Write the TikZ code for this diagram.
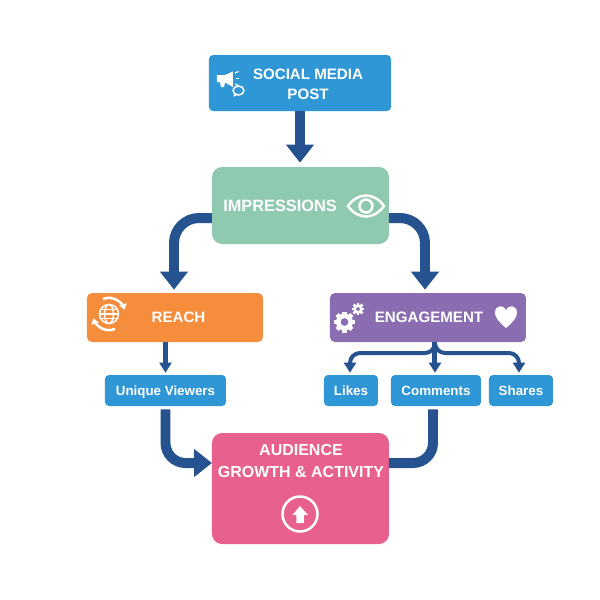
\documentclass[tikz,border=0pt]{standalone}
\usepackage{fontspec}
\setmainfont{Liberation Sans}
\usetikzlibrary{arrows.meta}
\definecolor{postBlue}{HTML}{2F97D5}
\definecolor{impGreen}{HTML}{8FC9B0}
\definecolor{reachOrange}{HTML}{F68D3C}
\definecolor{engPurple}{HTML}{8A6DB1}
\definecolor{audPink}{HTML}{E8608C}
\definecolor{arrowBlue}{HTML}{26538F}
\tikzset{
  boxDecorate/.style={shape=rectangle,inner sep=0pt},%
  labelDecorate/.style={text=white,font=\bfseries\fontsize{8.6}{11.6}\selectfont,align=center,inner sep=0pt},%
  smallLabel/.style={text=white,font=\bfseries\fontsize{7.6}{10}\selectfont,inner sep=0pt,anchor=base},%
  bigArrow/.style={draw=arrowBlue,line width=0.2cm,rounded corners=0.5cm,-{Triangle[width=0.54cm,length=0.36cm]}},%
  midArrow/.style={draw=arrowBlue,line width=0.08cm,rounded corners=0.2cm,-{Triangle[width=0.24cm,length=0.2cm]}},%
  iconLine/.style={draw=white,line width=0.03cm},%
  iconFill/.style={fill=white}
}
\begin{document}
\begin{tikzpicture}[x=0.02cm,y=-0.02cm]
\useasboundingbox (0,0) rectangle (600,600);
%% boxes
\foreach \nodename/\x/\y/\w/\h/\col/\rad in {
  post/300/83/182/56/postBlue/4,
  impressions/300.5/205.5/177/77/impGreen/10,
  reach/175/317.5/176/49/reachOrange/5,
  engagement/428/317.5/196/49/engPurple/5,
  viewers/165.5/390.5/121/31/postBlue/4,
  likes/351/390.5/54/31/postBlue/4,
  comments/436/390.5/90/31/postBlue/4,
  shares/521/390.5/64/31/postBlue/4,
  audience/300.5/488.5/177/111/audPink/10}
{
  \node (\nodename) at (\x,\y) [boxDecorate,fill=\col,rounded corners=\rad*0.02cm,
    minimum width=\w*0.02cm,minimum height=\h*0.02cm] {};
}
%% labels
\node (postText) at (308,84) [labelDecorate] {SOCIAL MEDIA\\POST};
\node (impText) at (280,205.5) [labelDecorate,font=\bfseries\fontsize{9.3}{12}\selectfont] {IMPRESSIONS};
\node (reachText) at (178.5,317.5) [labelDecorate] {REACH};
\node (engText) at (429,317.5) [labelDecorate] {ENGAGEMENT};
\node (audText) at (301,461) [labelDecorate,font=\bfseries\fontsize{9.1}{12}\selectfont] {AUDIENCE\\GROWTH \& ACTIVITY};
\foreach \nodename/\x/\txt in {
  viewersText/165.5/Unique Viewers, likesText/351/Likes,
  commentsText/436/Comments, sharesText/521/Shares}
{
  \node (\nodename) at (\x,395.5) [smallLabel] {\txt};
}
%% connector ends
\coordinate (impLeft) at (212,218);
\coordinate (impRight) at (389,218);
\coordinate (audienceIn) at (212,463);
\coordinate (audienceOut) at (389,463);
\coordinate (fork) at (435,353);
%% connectors
\draw[bigArrow,rounded corners=0pt,shorten >=0.08cm] (post.south) -- (post.south |- impressions.north);
\draw[bigArrow,shorten >=0.06cm] (impLeft) -| ([xshift=-0.02cm]reach.north);
\draw[bigArrow,shorten >=0.06cm] (impRight) -| ([xshift=-0.06cm]engagement.north);
\draw[midArrow,line width=0.1cm,shorten >=0.04cm] (reach.south -| viewers.north) -- (viewers.north);
\draw[midArrow] (fork |- engagement.south) -- (fork) -| ([xshift=-0.02cm,yshift=0.04cm]likes.north);
\draw[midArrow] (fork |- engagement.south) -- (fork) -| ([xshift=-0.04cm,yshift=0.04cm]shares.north);
\draw[midArrow,line width=0.1cm,rounded corners=0pt,shorten >=0.04cm] (fork |- engagement.south) -- (fork |- comments.north);
\draw[bigArrow,rounded corners=0.4cm,shorten <=0.06cm] (viewers.south) |- (audienceIn);
\draw[bigArrow,-,rounded corners=0.4cm,shorten <=0.06cm] ([xshift=-0.06cm]comments.south) |- (audienceOut);
%% megaphone and speech bubble
\fill[iconFill] (217,75) -- (225,75) -- (233,71.5) -- (233,87) -- (225,82.5) -- (224,87) -- (221,87) -- (220,82) -- (217,82) -- cycle;
\foreach \a/\b in {235/73, 236/78.5, 235/84}
{
  \draw[iconLine,line width=0.025cm] (\a,\b) -- ++(3.5,{(\b-78.5)*0.3});
}
\draw[iconLine] (238.5,90.5) ellipse (5.5 and 4.5);
\fill[iconFill] (234,93) -- (233.5,97) -- (238,94.5) -- cycle;
%% eye
\draw[iconLine,line width=0.05cm] (348,206) .. controls (358,192) and (374,192) .. (384,206)
  .. controls (374,220) and (358,220) .. (348,206) -- cycle;
\draw[iconLine,line width=0.05cm] (366,206) circle (6.5);
%% globe with arrows
\draw[iconLine] (109,314) circle (9.5);
\draw[iconLine] (109,314) ellipse (4.5 and 9.5);
\draw[iconLine] (99.5,314) -- (118.5,314) (101,309.5) -- (117,309.5) (101,318.5) -- (117,318.5);
\draw[iconLine,line width=0.05cm,-{Triangle[width=0.15cm,length=0.11cm]}] (103,299) arc[start angle=-112,end angle=-15,radius=16];
\draw[iconLine,line width=0.05cm,-{Triangle[width=0.15cm,length=0.11cm]}] (115,329) arc[start angle=68,end angle=165,radius=16];
%% gears
\fill[iconFill,even odd rule] (344.5,322) circle (8.5) (344.5,322) circle (4);
\foreach \ang in {0,45,...,315}
{
  \fill[iconFill,rotate around={\ang:(344.5,322)}] (342.3,311.5) rectangle (346.7,315);
}
\fill[iconFill,even odd rule] (358,309) circle (4.8) (358,309) circle (2);
\foreach \ang in {0,45,...,315}
{
  \fill[iconFill,rotate around={\ang:(358,309)}] (356.7,302.8) rectangle (359.3,305);
}
%% heart
\fill[iconFill] (506,328) .. controls (498,321) and (495,317) .. (495,312.5)
  .. controls (495,305) and (504,304) .. (506,310.5)
  .. controls (508,304) and (517,305) .. (517,312.5)
  .. controls (517,317) and (514,321) .. (506,328) -- cycle;
%% up arrow in circle
\draw[iconLine,line width=0.05cm] (300,514) circle (17.5);
\fill[iconFill] (300,506) -- (308,515) -- (304,515) -- (304,523) -- (296.5,523) -- (296.5,515) -- (292.5,515) -- cycle;
\end{tikzpicture}
\end{document}
